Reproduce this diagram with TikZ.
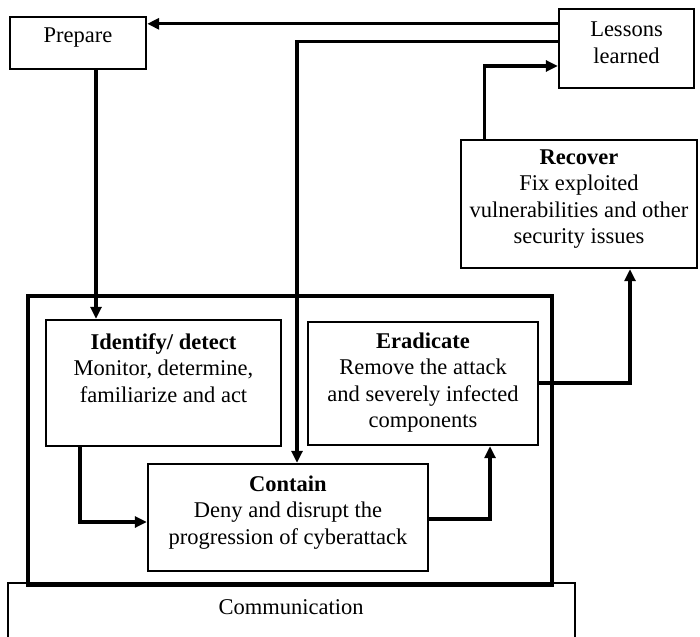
\documentclass[tikz,border=0pt]{standalone}
\usepackage{fontspec}
\setmainfont{Liberation Serif}
\usetikzlibrary{arrows.meta,calc}
\begin{document}
\begin{tikzpicture}[x=1pt,y=-1pt,
  box/.style={draw,line width=2.4pt,rectangle,inner sep=0pt},
  txt/.style={align=center,font=\fontsize{22.5}{26.5}\selectfont,inner sep=0pt},
  arr/.style={line width=3.2pt,-{Triangle[length=12pt,width=11pt]}}]
\useasboundingbox (0,0) rectangle (700,636);
\fill[white] (0,0) rectangle (700,636);

% outer frame around the response stages
\draw[line width=3.6pt] (28,296) rectangle (552,585);
% communication band along the bottom
\draw[line width=2.4pt] (8,640) -- (8,583) -- (575,583) -- (575,640);
\node[txt] (comm) at (291,607) {Communication};

% boxes
\node[box,minimum width=136pt,minimum height=52pt] (prep) at (78,43) {};
\node[box,minimum width=135pt,minimum height=79pt] (less) at (626.5,48.5) {};
\node[box,minimum width=236pt,minimum height=128pt] (rec) at (579,204) {};
\node[box,minimum width=235pt,minimum height=126pt] (ident) at (163.5,383) {};
\node[box,minimum width=230pt,minimum height=123pt] (erad) at (423,383.5) {};
\node[box,minimum width=280pt,minimum height=107pt] (cont) at (288,517.5) {};

% box texts
\node[txt] (prept) at ($(prep.center)+(0,-5)$) {Prepare};
\node[txt] (lesst) at ($(less.center)+(0,-6)$) {Lessons\\learned};
\node[txt] (rect) at ($(rec.center)+(0,-5)$) {\textbf{Recover}\\Fix exploited\\vulnerabilities and other\\security issues};
\node[txt] (identt) at ($(ident.center)+(0,-15)$) {\textbf{Identify/ detect}\\Monitor, determine,\\familiarize and act};
\node[txt] (eradt) at ($(erad.center)+(0,-1)$) {\textbf{Eradicate}\\Remove the attack\\and severely infected\\components};
\node[txt] (contt) at ($(cont.center)+(0,-5)$) {\textbf{Contain}\\Deny and disrupt the\\progression of cyberattack};

% feedback lines leaving the lessons box
\coordinate (lessA) at ($(less.north west)+(0,16)$);
\coordinate (lessB) at ($(less.north west)+(0,34)$);

% connectors
\draw[arr] (lessA) -- (lessA -| prep.east);
\draw[arr] (lessB) -| ([xshift=9pt]cont.north);
\draw[arr] ([xshift=25pt]rec.north west) |- ([yshift=-17.5pt]less.west);
\draw[arr] ([xshift=18pt]prep.south) -- ([xshift=18pt]prep.south |- ident.north);
\draw[arr] ([xshift=-83.5pt]ident.south) |- ([yshift=-4.5pt]cont.west);
\draw[arr] ([yshift=-1.5pt]cont.east) -| ([xshift=67pt]erad.south);
\draw[arr] ([yshift=0.5pt]erad.east) -| ([xshift=51pt]rec.south);
\end{tikzpicture}
\end{document}
